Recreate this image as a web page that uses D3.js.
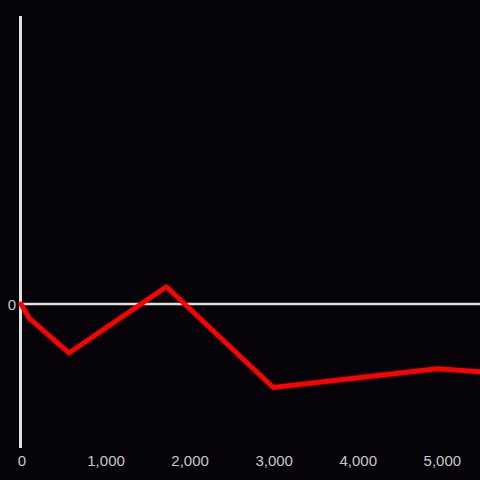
<!DOCTYPE html>
<html><head><meta charset="utf-8">
<script src="https://cdn.jsdelivr.net/npm/d3@7"></script>
<style>html,body{margin:0;padding:0;background:#050307;}svg{display:block;}</style>
</head><body>
<svg id="c" width="480" height="480"></svg>
<script>
const xValues = [0, 100, 570, 1730, 3000, 4950, 5460];
const yValues = [0, -0.1, -0.34, 0.12, -0.58, -0.45, -0.47];
const xTicks = [0, 1000, 2000, 3000, 4000, 5000];
const yTicks = [0];

const svg = d3.select("#c");
const x = d3.scaleLinear().domain([0, 5460]).range([21, 480]);
const y = d3.scaleLinear().domain([-1, 2]).range([448, 16]);
const fmt = d3.format(",");

// x tick labels
svg.append("g").selectAll("text").data(xTicks).join("text")
  .attr("x", d => x(d) + 1).attr("y", 466)
  .attr("text-anchor", "middle")
  .attr("fill", "#c8c8c8")
  .attr("font-family", "Liberation Sans, Arial, sans-serif")
  .attr("font-size", 15)
  .text(d => fmt(d));

// y tick labels
svg.append("g").selectAll("text").data(yTicks).join("text")
  .attr("x", 16).attr("y", d => y(d) + 6)
  .attr("text-anchor", "end")
  .attr("fill", "#c8c8c8")
  .attr("font-family", "Liberation Sans, Arial, sans-serif")
  .attr("font-size", 15)
  .text(d => fmt(d));

// y axis line
svg.append("line")
  .attr("x1", x(0) - 0.5).attr("x2", x(0) - 0.5)
  .attr("y1", y(2)).attr("y2", y(-1))
  .attr("stroke", "#e0e0e0").attr("stroke-width", 3);

// zero line
svg.append("line")
  .attr("x1", x(0)).attr("x2", 480)
  .attr("y1", y(0)).attr("y2", y(0))
  .attr("stroke", "#e0e0e0").attr("stroke-width", 2.5);

const line = d3.line().x((d, i) => x(xValues[i])).y(d => y(d));
svg.append("path")
  .datum(yValues)
  .attr("d", line)
  .attr("fill", "none")
  .attr("stroke", "#ff0000")
  .attr("stroke-width", 5)
  .attr("stroke-linejoin", "round")
  .attr("stroke-linecap", "round");
</script>
</body></html>
